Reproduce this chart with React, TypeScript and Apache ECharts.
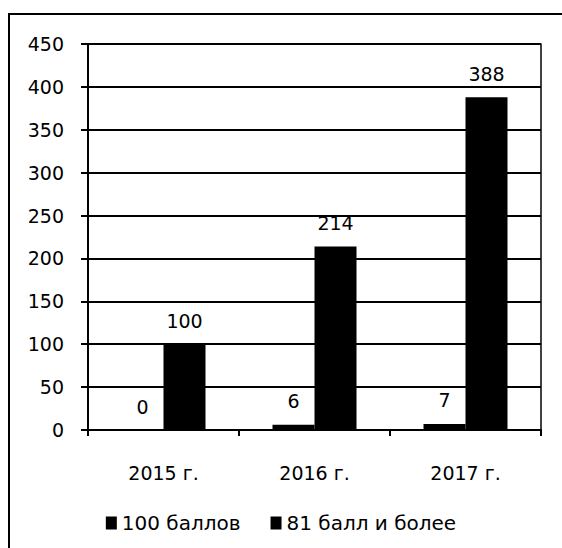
import React, { useEffect, useRef } from "react";
import * as echarts from "echarts";

const categories = ["2015 г.", "2016 г.", "2017 г."];
const series100 = [0, 6, 7];
const series81 = [100, 214, 388];
const seriesNames = ["100 баллов", "81 балл и более"];
const yMin = 0;
const yMax = 450;
const yStep = 50;

export default function App() {
  const ref = useRef<HTMLDivElement>(null);
  useEffect(() => {
    if (!ref.current) return;
    const chart = echarts.init(ref.current, undefined, { renderer: "svg" });
    const font = "DejaVu Sans";
    const labelCfg = {
      show: true,
      position: "top",
      distance: 14,
      color: "#000",
      fontSize: 19,
      fontFamily: font,
    };
    chart.setOption({
      animation: false,
      backgroundColor: "#fff",
      graphic: [
        {
          type: "rect",
          shape: { x: 9, y: 14, width: 600, height: 600 },
          style: { fill: "none", stroke: "#000", lineWidth: 2 },
          silent: true,
        },
      ],
      grid: { left: 88, right: 21, top: 44, bottom: 118 },
      legend: {
        top: 508,
        left: "center",
        itemWidth: 11,
        itemHeight: 13,
        itemGap: 30,
        icon: "rect",
        textStyle: { color: "#000", fontSize: 20, fontFamily: font },
        data: seriesNames,
      },
      xAxis: {
        type: "category",
        data: categories,
        axisLine: { lineStyle: { color: "#000", width: 2 } },
        axisTick: { show: true, length: 6, lineStyle: { color: "#000", width: 2 } },
        axisLabel: { color: "#000", fontSize: 19, fontFamily: font, margin: 33 },
      },
      yAxis: [
        {
          type: "value",
          min: yMin,
          max: yMax,
          interval: yStep,
          axisLine: { show: true, lineStyle: { color: "#000", width: 2 } },
          axisTick: { show: true, length: 7, lineStyle: { color: "#000", width: 2 } },
          axisLabel: { color: "#000", fontSize: 19, fontFamily: font, margin: 24 },
          splitLine: { show: true, lineStyle: { color: "#000", width: 2 } },
        },
        {
          type: "value",
          position: "right",
          min: yMin,
          max: yMax,
          interval: yStep,
          axisLine: { show: true, lineStyle: { color: "#000", width: 1.5 } },
          axisTick: { show: false },
          axisLabel: { show: false },
          splitLine: { show: false },
        },
      ],
      series: [
        {
          name: seriesNames[0],
          type: "bar",
          data: series100,
          barWidth: 42,
          barGap: "0%",
          itemStyle: { color: "#000" },
          label: labelCfg,
        },
        {
          name: seriesNames[1],
          type: "bar",
          data: series81,
          barWidth: 42,
          barGap: "0%",
          itemStyle: { color: "#000" },
          label: labelCfg,
        },
      ],
    });
    return () => chart.dispose();
  }, []);
  return (
    <div
      ref={ref}
      style={{ position: "fixed", left: 0, top: 0, width: 562, height: 548 }}
    />
  );
}
